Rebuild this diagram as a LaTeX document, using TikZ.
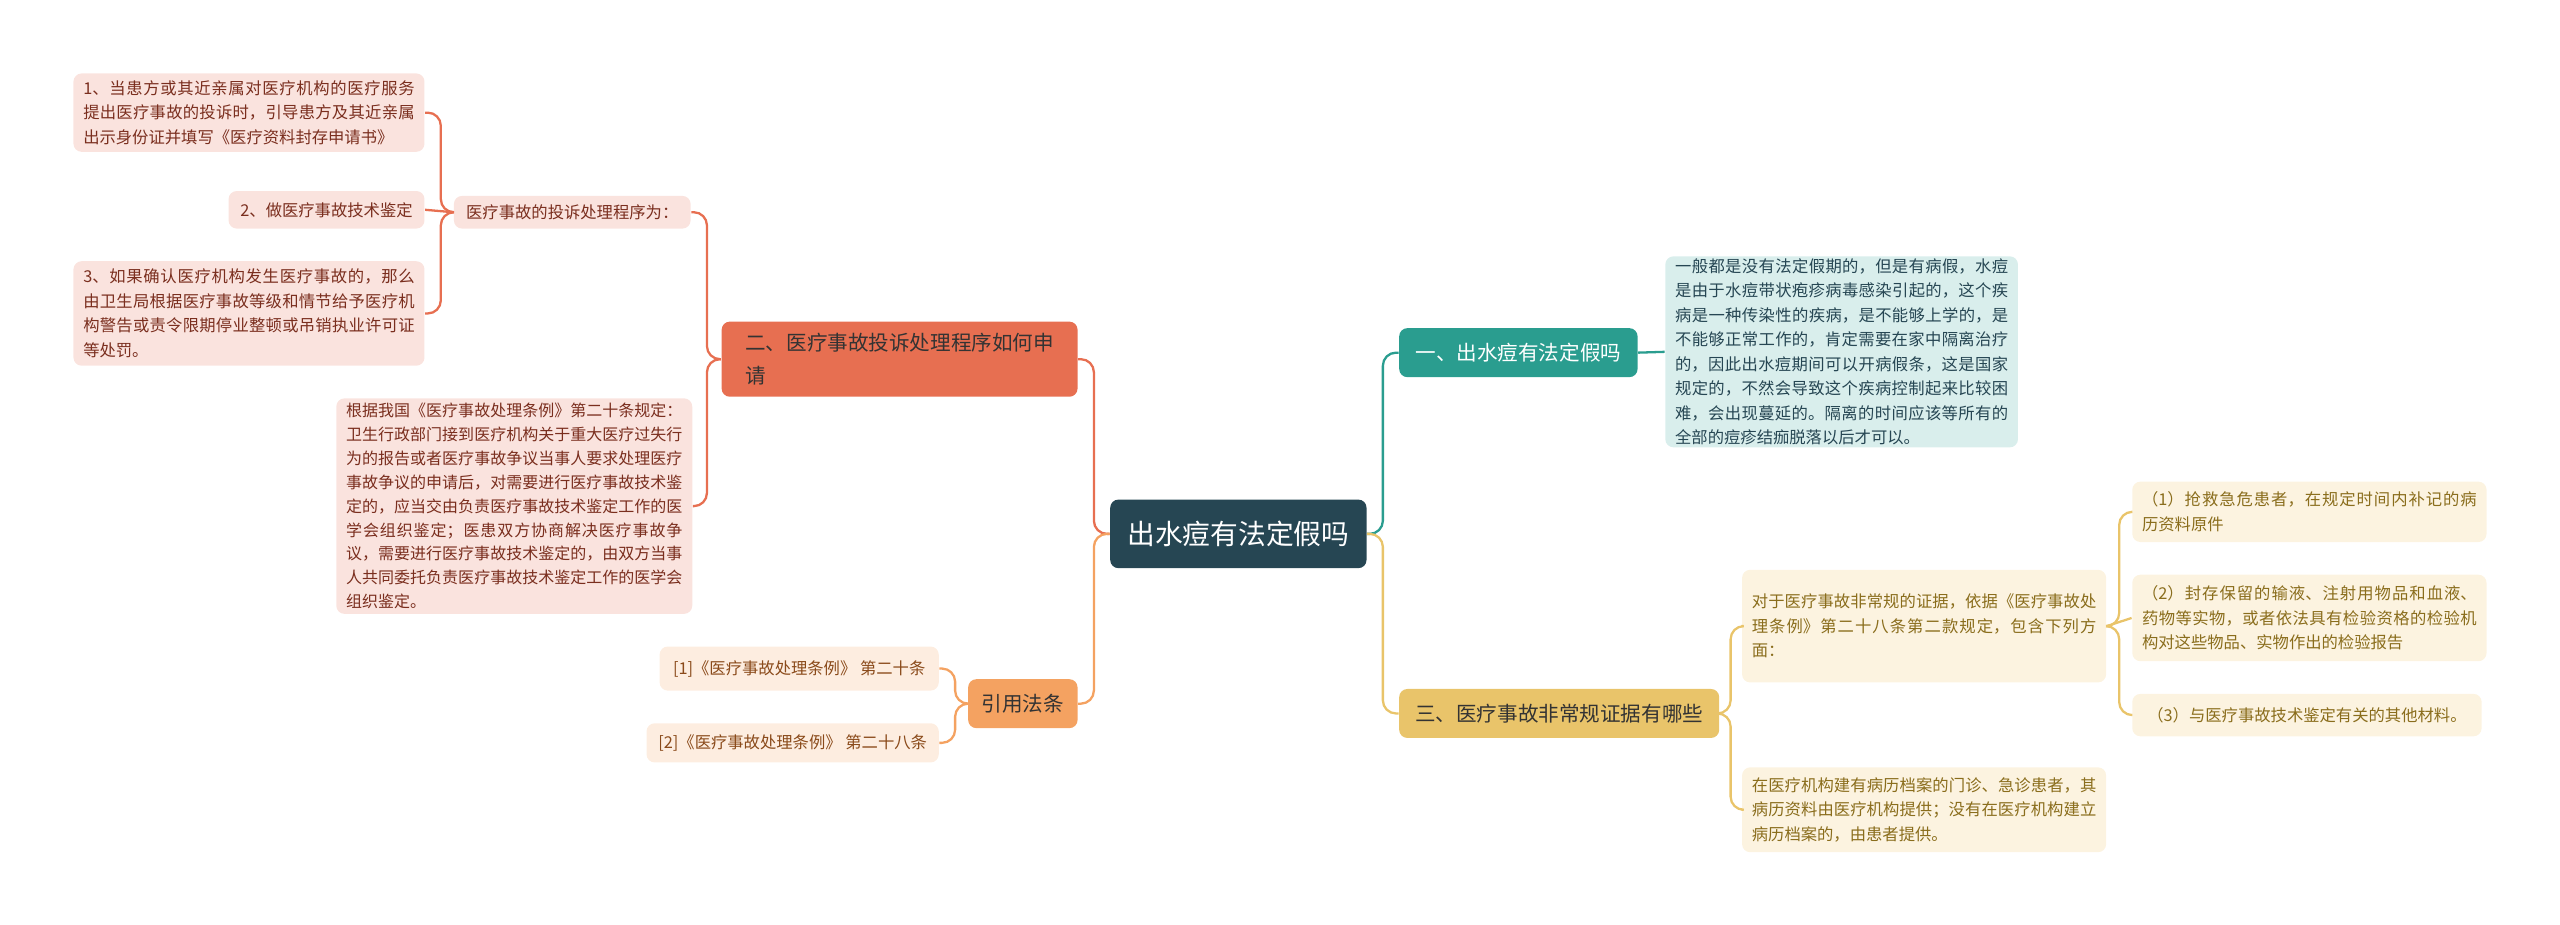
\documentclass[tikz,border=0pt]{standalone}
\usepackage{fontspec}
\setmainfont{Noto Sans CJK SC}
\XeTeXlinebreaklocale "zh"
\XeTeXlinebreakskip=0pt plus 1pt
\begin{document}
\begin{tikzpicture}[x=0.5pt,y=-0.5pt,
 box/.style={rounded corners=2.5pt,inner xsep=3pt,inner ysep=0pt,align=justify,font=\fontsize{5}{7.5}\selectfont},
 leafO/.style={box,fill=orangeL,text=orangeT},
 leafY/.style={box,fill=yellowL,text=yellowT},
 leafR/.style={box,fill=refL,text=refT},
 con/.style={line width=0.7pt,rounded corners=4pt}]
\definecolor{rootc}{HTML}{264653}
\definecolor{teal}{HTML}{2A9D8F}
\definecolor{yel}{HTML}{E9C46A}
\definecolor{ora}{HTML}{E76F51}
\definecolor{ora2}{HTML}{F4A261}
\definecolor{orangeL}{HTML}{FAE3DE}
\definecolor{orangeT}{HTML}{7A2E1E}
\definecolor{yellowL}{HTML}{FCF3E0}
\definecolor{yellowT}{HTML}{8A6D1C}
\definecolor{refL}{HTML}{FDEDE0}
\definecolor{refT}{HTML}{8A4A1A}
\definecolor{tealL}{HTML}{D9EEEC}
\useasboundingbox (0,0) rectangle (1568,566);
\node[box,fill=rootc,text=white,minimum width=78.5pt,minimum height=21pt,align=center,font=\fontsize{8.5}{10}\selectfont] (root) at (758.5,327) {出水痘有法定假吗};
\node[box,fill=teal,text=white,minimum width=73pt,minimum height=15pt,align=center,font=\fontsize{6.3}{9}\selectfont] (b1) at (930,216) {一、出水痘有法定假吗};
\node[box,fill=tealL,text=rootc,text width=102pt,minimum height=58.5pt] (tl) at (1128,215.5) {一般都是没有法定假期的，但是有病假，水痘是由于水痘带状疱疹病毒感染引起的，这个疾病是一种传染性的疾病，是不能够上学的，是不能够正常工作的，肯定需要在家中隔离治疗的，因此出水痘期间可以开病假条，这是国家规定的，不然会导致这个疾病控制起来比较困难，会出现蔓延的。隔离的时间应该等所有的全部的痘疹结痂脱落以后才可以。};
\node[box,fill=yel,text=black!80,minimum width=98pt,minimum height=15pt,align=center,font=\fontsize{6.3}{9}\selectfont] (b3) at (955,437) {三、医疗事故非常规证据有哪些};
\node[leafY,text width=105.5pt,minimum height=34.5pt] (ym1) at (1178.5,383.5) {对于医疗事故非常规的证据，依据《医疗事故处理条例》第二十八条第二款规定，包含下列方面：};
\node[leafY,text width=105.5pt,minimum height=26pt] (ym2) at (1178.5,496) {在医疗机构建有病历档案的门诊、急诊患者，其病历资料由医疗机构提供；没有在医疗机构建立病历档案的，由患者提供。};
\node[leafY,text width=102.5pt,minimum height=18.5pt] (yr1) at (1414.5,313.5) {（1）抢救急危患者，在规定时间内补记的病历资料原件};
\node[leafY,text width=102.5pt,minimum height=26.5pt] (yr2) at (1414.5,378.5) {（2）封存保留的输液、注射用物品和血液、药物等实物，或者依法具有检验资格的检验机构对这些物品、实物作出的检验报告};
\node[leafY,minimum width=107pt,minimum height=13pt,align=left] (yr3) at (1413,438) {（3）与医疗事故技术鉴定有关的其他材料。};
\node[box,fill=ora,text=black!80,minimum width=109pt,minimum height=23pt,align=left,font=\fontsize{6.3}{10}\selectfont] (b2) at (551,220) {二、医疗事故投诉处理程序如何申\\请};
\node[leafO,minimum width=72.5pt,minimum height=10pt] (os) at (350.5,130) {医疗事故的投诉处理程序为：};
\node[leafO,text width=101.5pt,minimum height=24pt] (o1) at (152.5,69) {1、当患方或其近亲属对医疗机构的医疗服务提出医疗事故的投诉时，引导患方及其近亲属出示身份证并填写《医疗资料封存申请书》};
\node[leafO,minimum width=60pt,minimum height=11.5pt] (o2) at (200,128.5) {2、做医疗事故技术鉴定};
\node[leafO,text width=101.5pt,minimum height=32pt] (o3) at (152.5,192) {3、如果确认医疗机构发生医疗事故的，那么由卫生局根据医疗事故等级和情节给予医疗机构警告或责令限期停业整顿或吊销执业许可证等处罚。};
\node[leafO,text width=103pt,minimum height=66pt,font=\fontsize{4.9}{7.3}\selectfont] (ob) at (315,310) {根据我国《医疗事故处理条例》第二十条规定：卫生行政部门接到医疗机构关于重大医疗过失行为的报告或者医疗事故争议当事人要求处理医疗事故争议的申请后，对需要进行医疗事故技术鉴定的，应当交由负责医疗事故技术鉴定工作的医学会组织鉴定；医患双方协商解决医疗事故争议，需要进行医疗事故技术鉴定的，由双方当事人共同委托负责医疗事故技术鉴定工作的医学会组织鉴定。};
\node[box,fill=ora2,text=black!80,minimum width=33.5pt,minimum height=15pt,align=center,font=\fontsize{6.3}{9}\selectfont] (b4) at (626.5,431) {引用法条};
\node[leafR,minimum width=85.5pt,minimum height=13.5pt] (r1) at (489.5,409.5) {[1]《医疗事故处理条例》 第二十条};
\node[leafR,minimum width=89.5pt,minimum height=12pt] (r2) at (485.5,455) {[2]《医疗事故处理条例》 第二十八条};
% connectors
\draw[con,teal] (root.east) -- (847,327) |- (b1.west);
\draw[con,yel] (root.east) -- (847,327) |- (b3.west);
\draw[con,teal] (b1.east) -- (tl.west);
\draw[con,yel] (b3.east) -- (1060,437) |- (ym1.west);
\draw[con,yel] (b3.east) -- (1060,437) |- (ym2.west);
\draw[con,yel] (ym1.east) -- (1298,383.5) |- (yr1.west);
\draw[con,yel] (ym1.east) -- (yr2.west);
\draw[con,yel] (ym1.east) -- (1298,383.5) |- (yr3.west);
\draw[con,ora] (root.west) -- (670,327) |- (b2.east);
\draw[con,ora2] (root.west) -- (670,327) |- (b4.east);
\draw[con,ora] (b2.west) -- (433,220) |- (os.east);
\draw[con,ora] (b2.west) -- (433,220) |- (ob.east);
\draw[con,ora] (os.west) -- (270,130) |- (o1.east);
\draw[con,ora] (os.west) -- (o2.east);
\draw[con,ora] (os.west) -- (270,130) |- (o3.east);
\draw[con,ora2] (b4.west) -- (585,431) |- (r1.east);
\draw[con,ora2] (b4.west) -- (585,431) |- (r2.east);
\end{tikzpicture}
\end{document}
